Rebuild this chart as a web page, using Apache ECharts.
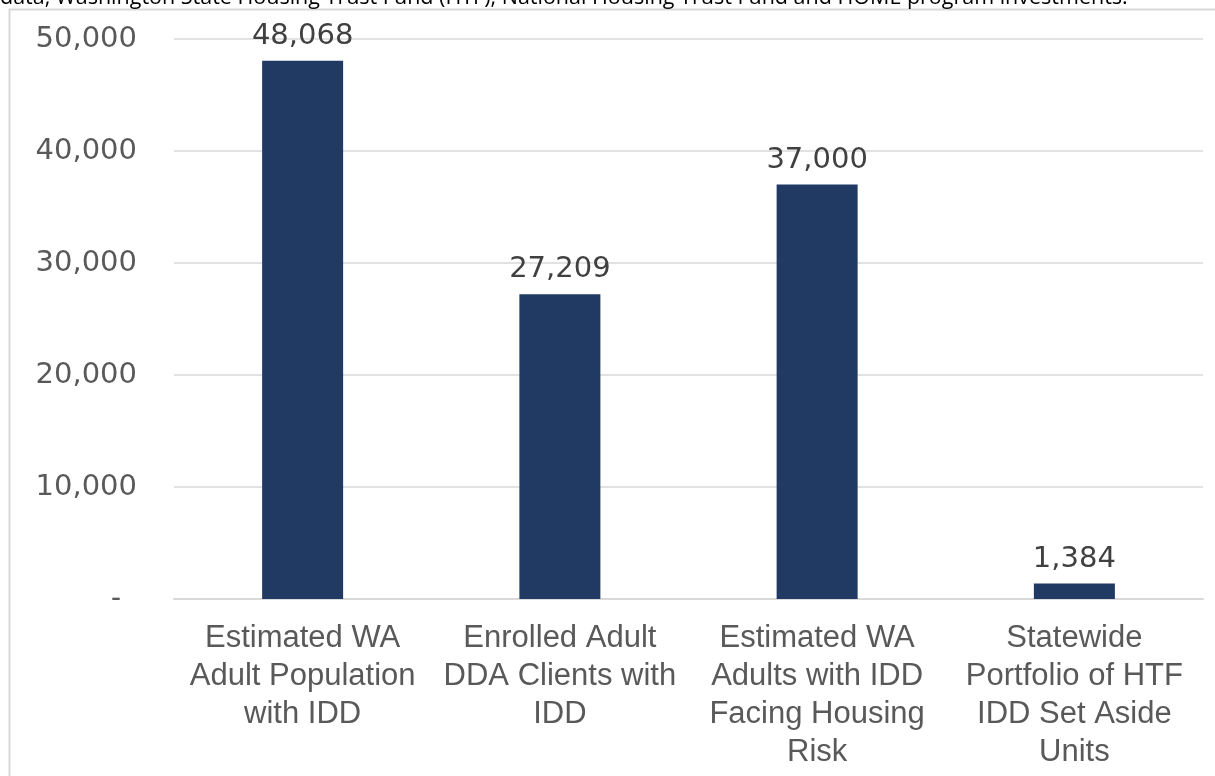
<!DOCTYPE html>
<html>
<head>
<meta charset="utf-8">
<script src="https://cdn.jsdelivr.net/npm/echarts@6/dist/echarts.min.js"></script>
<style>
  html, body { margin: 0; padding: 0; background: #fff; }
  #main { width: 1215px; height: 776px; }
</style>
</head>
<body>
<div id="main"></div>
<script>
// categories and values
var categories = [
  'Estimated WA\nAdult Population\nwith IDD',
  'Enrolled Adult\nDDA Clients with\nIDD',
  'Estimated WA\nAdults with IDD\nFacing Housing\nRisk',
  'Statewide\nPortfolio of HTF\nIDD Set Aside\nUnits'
];
var values = [48068, 27209, 37000, 1384];
var yTicks = [0, 10000, 20000, 30000, 40000, 50000];

var noteText = 'data, Washington State Housing Trust Fund (HTF), National Housing Trust Fund and HOME program investments.';

function fmt(v) {
  return v.toString().replace(/\B(?=(\d{3})+(?!\d))/g, ',');
}

var myChart = echarts.init(document.getElementById('main'));

var option = {
  animation: false,
  backgroundColor: '#fff',
  textStyle: { fontFamily: 'Liberation Sans' },
  graphic: [
    // clipped note text above the box
    {
      type: 'text',
      left: 0,
      top: -13,
      style: {
        text: noteText,
        font: '21.5px "Open Sans"',
        fill: '#000'
      },
      silent: true
    },
    // frame of the chart box (only top and left edges visible)
    {
      type: 'rect',
      shape: { x: 9.5, y: 9.5, width: 1300, height: 900 },
      style: { fill: '#fff', stroke: '#d9d9d9', lineWidth: 2 },
      z: -1,
      silent: true
    }
  ],
  grid: {
    left: 174,
    right: 12,
    top: 39,
    bottom: 177,
    containLabel: false
  },
  xAxis: {
    type: 'category',
    data: categories,
    axisLine: { show: true, lineStyle: { color: '#d9d9d9', width: 2 } },
    axisTick: { show: false },
    axisLabel: {
      interval: 0,
      color: '#595959',
      fontSize: 31,
      lineHeight: 38,
      margin: 20,
      align: 'center'
    }
  },
  yAxis: {
    type: 'value',
    min: yTicks[0],
    max: yTicks[yTicks.length - 1],
    interval: yTicks[1] - yTicks[0],
    axisLine: { show: false },
    axisTick: { show: false },
    splitLine: { lineStyle: { color: '#d9d9d9', width: 1.5 } },
    axisLabel: {
      color: '#595959',
      fontSize: 29,
      fontFamily: 'DejaVu Sans',
      margin: 37,
      formatter: function (v) {
        return v === 0 ? '{d|-}' : fmt(v);
      },
      rich: {
        d: {
          color: '#595959',
          fontSize: 30,
          fontFamily: 'Liberation Sans',
          padding: [0, 16, 0, 0]
        }
      }
    }
  },
  series: [{
    type: 'bar',
    data: values,
    barWidth: 81,
    itemStyle: { color: '#203a63' },
    label: {
      show: true,
      position: 'top',
      distance: 10,
      color: '#404040',
      fontSize: 29,
      fontFamily: 'DejaVu Sans',
      formatter: function (p) { return fmt(p.value); }
    }
  }]
};

myChart.setOption(option);
</script>
</body>
</html>
